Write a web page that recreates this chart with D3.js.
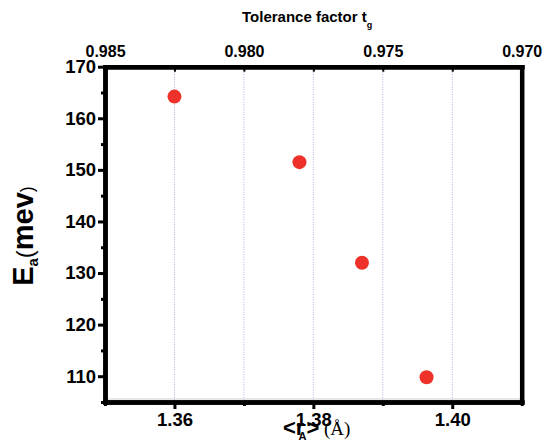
<!DOCTYPE html>
<html>
<head>
<meta charset="utf-8">
<script src="https://cdn.jsdelivr.net/npm/d3@7"></script>
<style>
  body { margin: 0; background: #fff; }
  svg { display: block; font-family: "Liberation Sans", Arial, sans-serif; }
  .axis text { font-weight: bold; fill: #000; }
  .axis path, .axis line { stroke: #000; }
</style>
</head>
<body>
<svg id="chart" width="542" height="441"></svg>
<script>
// mean A-site radius <r_A> (Å) and activation energy Ea (meV)
const rA = [1.360, 1.378, 1.387, 1.3963]
const ea = [164.2, 151.5, 132.0, 109.8]

const bottomMajor = [1.36, 1.38, 1.40]
const bottomMinor = [1.35, 1.37, 1.39, 1.41]
const gridTicks = [1.36, 1.37, 1.38, 1.39, 1.40]
const leftMajor = [110, 120, 130, 140, 150, 160, 170]
const leftMinor = [105, 115, 125, 135, 145, 155, 165]
const topMajor = [0.985, 0.980, 0.975, 0.970]
const topMinor = [0.9825, 0.9775, 0.9725]

const svg = d3.select('#chart')
const L = 105, R = 521.7, T = 66.7, B = 402

const x = d3.scaleLinear().domain([1.35, 1.41]).range([L, R])
const xTop = d3.scaleLinear().domain([0.985, 0.970]).range([L, R])
const y = d3.scaleLinear().domain([105, 170]).range([B, T])

// dotted vertical grid
svg.append('g')
    .selectAll('line')
    .data(gridTicks)
    .join('line')
    .attr('x1', d => x(d)).attr('x2', d => x(d))
    .attr('y1', T).attr('y2', B)
    .attr('stroke', '#a7ace8')
    .attr('stroke-width', 1)
    .attr('stroke-dasharray', '1,1.5')

// faint line just above bottom axis
svg.append('line')
    .attr('x1', L).attr('x2', R)
    .attr('y1', B - 3).attr('y2', B - 3)
    .attr('stroke', '#d0d0d0').attr('stroke-width', 1)

// bottom axis
const gBottom = svg.append('g').attr('class', 'axis')
    .attr('transform', `translate(0,${B})`)
    .call(d3.axisBottom(x).tickValues(bottomMajor).tickFormat(d3.format('.2f'))
        .tickSize(7).tickPadding(4).tickSizeOuter(0))
gBottom.selectAll('text').style('font-size', '18.5px')
gBottom.selectAll('line').attr('stroke-width', 3)
svg.append('g').attr('class', 'axis')
    .attr('transform', `translate(0,${B})`)
    .call(d3.axisBottom(x).tickValues(bottomMinor).tickFormat('').tickSize(4).tickSizeOuter(0))
    .selectAll('line').attr('stroke-width', 3)

// left axis
const gLeft = svg.append('g').attr('class', 'axis')
    .attr('transform', `translate(${L},0)`)
    .call(d3.axisLeft(y).tickValues(leftMajor).tickSize(7).tickPadding(2).tickSizeOuter(0))
gLeft.selectAll('text').style('font-size', '18.5px')
gLeft.selectAll('line').attr('stroke-width', 3)
svg.append('g').attr('class', 'axis')
    .attr('transform', `translate(${L},0)`)
    .call(d3.axisLeft(y).tickValues(leftMinor).tickFormat('').tickSize(4).tickSizeOuter(0))
    .selectAll('line').attr('stroke-width', 3)

// top axis: tolerance factor, ticks pointing inward
const gTop = svg.append('g').attr('class', 'axis')
    .attr('transform', `translate(0,${T})`)
    .call(d3.axisTop(xTop).tickValues(topMajor).tickFormat(d3.format('.3f'))
        .tickSizeInner(-5).tickPadding(10).tickSizeOuter(0))
gTop.selectAll('text').style('font-size', '16px')
gTop.selectAll('line').attr('stroke-width', 2)
svg.append('g').attr('class', 'axis')
    .attr('transform', `translate(0,${T})`)
    .call(d3.axisTop(xTop).tickValues(topMinor).tickFormat('').tickSizeInner(-5).tickSizeOuter(0))
    .selectAll('line').attr('stroke-width', 2)

// right axis
svg.append('g').attr('class', 'axis')
    .attr('transform', `translate(${R},0)`)
    .call(d3.axisRight(y).tickValues([]).tickSizeOuter(0))

svg.selectAll('.axis path').attr('stroke-width', 4.5).attr('stroke-linecap', 'square')

// points
svg.append('g')
    .selectAll('circle')
    .data(rA.map((r, i) => ({ r, e: ea[i] })))
    .join('circle')
    .attr('cx', d => x(d.r))
    .attr('cy', d => y(d.e))
    .attr('r', 7)
    .attr('fill', '#ee3129')

// top title
const topTitle = svg.append('text')
    .attr('x', 242).attr('y', 22)
    .style('font-weight', 'bold').style('font-size', '15px')
topTitle.append('tspan').text('Tolerance factor t')
topTitle.append('tspan').text('g').attr('dy', 6).style('font-size', '9px')

// y title
const yTitle = svg.append('text')
    .attr('transform', 'translate(33,236) rotate(-90)')
    .attr('text-anchor', 'middle')
    .style('font-weight', 'bold').style('font-size', '29px')
yTitle.append('tspan').text('E')
yTitle.append('tspan').text('a').attr('dy', 5).style('font-size', '15px')
yTitle.append('tspan').text('(').attr('dy', -5).style('font-weight', 'normal').style('font-size', '24px')
yTitle.append('tspan').text('mev')
yTitle.append('tspan').text(')').style('font-weight', 'normal').style('font-size', '18px')

// x title
const xTitle = svg.append('text')
    .attr('x', 283).attr('y', 435)
    .style('font-weight', 'bold').style('font-size', '22px')
xTitle.append('tspan').text('<r')
xTitle.append('tspan').text('A').attr('dy', 5).attr('dx', -6).style('font-size', '11px')
xTitle.append('tspan').text('>').attr('dy', -5)
xTitle.append('tspan').text(' (Å)')
    .style('font-family', '"Liberation Serif", "DejaVu Serif", serif')
    .style('font-weight', 'normal').style('font-size', '19px')
</script>
</body>
</html>
